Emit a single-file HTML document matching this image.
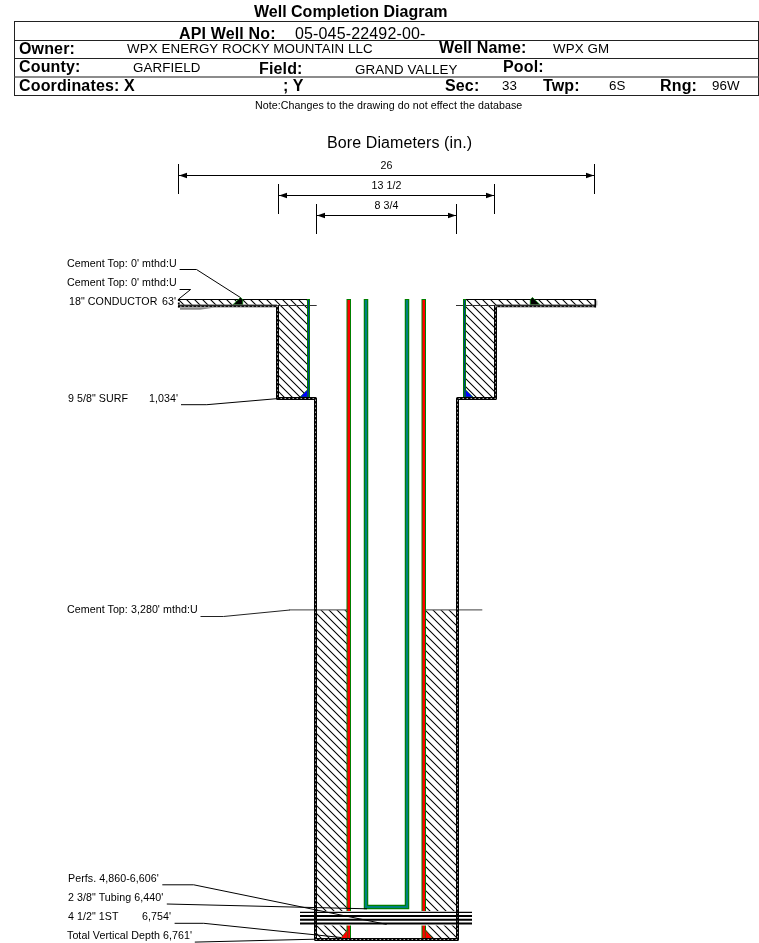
<!DOCTYPE html>
<html><head><meta charset="utf-8">
<style>
html,body{margin:0;padding:0;background:#fff;width:759px;height:943px;overflow:hidden}
svg{display:block;will-change:transform}
text{font-family:"Liberation Sans",sans-serif;fill:#000}
.b{font-weight:bold;font-size:16px;letter-spacing:0.15px}
.v{font-size:13.33px;letter-spacing:0.1px}
.s{font-size:10.67px;letter-spacing:0.06px}
</style></head><body>
<svg width="759" height="943" viewBox="0 0 759 943">
<defs>
<pattern id="h" patternUnits="userSpaceOnUse" x="7" y="0" width="8" height="8">
<path d="M-1,-1 L9,9 M-1,7 L1,9 M7,-1 L9,1" stroke="#000" stroke-width="1.05" fill="none"/>
</pattern>
</defs>
<!-- HEADER -->
<text class="b" x="254" y="17" style="letter-spacing:0">Well Completion Diagram</text>
<g stroke="#222" stroke-width="1" fill="none">
<rect x="14.5" y="21.5" width="744" height="74"/>
<line x1="14.5" y1="40.5" x2="758.5" y2="40.5"/>
<line x1="14.5" y1="58.5" x2="758.5" y2="58.5"/>
<line x1="14.5" y1="77" x2="758.5" y2="77" stroke="#666" stroke-width="1.6"/>
</g>
<text class="b" x="179" y="39">API Well No:</text>
<text class="b" style="font-weight:normal" x="295" y="39">05-045-22492-00-</text>
<text class="b" x="19" y="54">Owner:</text>
<text class="v" x="127" y="53">WPX ENERGY ROCKY MOUNTAIN LLC</text>
<text class="b" x="439" y="53.3">Well Name:</text>
<text class="v" x="553" y="53">WPX GM</text>
<text class="b" x="19" y="72.3">County:</text>
<text class="v" x="133" y="71.7">GARFIELD</text>
<text class="b" x="259" y="74">Field:</text>
<text class="v" x="355" y="73.6">GRAND VALLEY</text>
<text class="b" x="503" y="72.3">Pool:</text>
<text class="b" x="19" y="90.7">Coordinates: X</text>
<text class="b" x="283" y="90.7">; Y</text>
<text class="b" x="445" y="90.7">Sec:</text>
<text class="v" x="502" y="90.2">33</text>
<text class="b" x="543" y="90.7">Twp:</text>
<text class="v" x="609" y="90.2">6S</text>
<text class="b" x="660" y="90.7">Rng:</text>
<text class="v" x="712" y="90.2">96W</text>
<text class="s" x="255" y="109">Note:Changes to the drawing do not effect the database</text>

<!-- BORE DIAMETERS -->
<text x="327" y="147.6" style="font-size:16px;letter-spacing:0.1px">Bore Diameters (in.)</text>
<g stroke="#000" stroke-width="1" fill="none">
<line x1="178.5" y1="164" x2="178.5" y2="194"/>
<line x1="594.5" y1="164" x2="594.5" y2="194"/>
<line x1="178.5" y1="175.5" x2="594.5" y2="175.5"/>
<line x1="278.5" y1="184" x2="278.5" y2="214"/>
<line x1="494.5" y1="184" x2="494.5" y2="214"/>
<line x1="278.5" y1="195.5" x2="494.5" y2="195.5"/>
<line x1="316.5" y1="204" x2="316.5" y2="234"/>
<line x1="456.5" y1="204" x2="456.5" y2="234"/>
<line x1="316.5" y1="215.5" x2="456.5" y2="215.5"/>
</g>
<g fill="#000">
<path d="M179,175.5 L187,172.7 L187,178.3 Z"/><path d="M594,175.5 L586,172.7 L586,178.3 Z"/>
<path d="M279,195.5 L287,192.7 L287,198.3 Z"/><path d="M494,195.5 L486,192.7 L486,198.3 Z"/>
<path d="M317,215.5 L325,212.7 L325,218.3 Z"/><path d="M456,215.5 L448,212.7 L448,218.3 Z"/>
</g>
<text class="s" x="386.5" y="169.3" text-anchor="middle">26</text>
<text class="s" x="386.5" y="189.3" text-anchor="middle">13 1/2</text>
<text class="s" x="386.5" y="209.3" text-anchor="middle">8 3/4</text>

<!-- WELL -->
<g id="well">
<!-- cement hatching -->
<rect x="178" y="299.5" width="130" height="6.5" fill="url(#h)"/>
<rect x="465" y="299.5" width="130" height="6.5" fill="url(#h)"/>
<rect x="278" y="306" width="30" height="92" fill="url(#h)"/>
<rect x="465" y="306" width="30" height="92" fill="url(#h)"/>
<rect x="316" y="610" width="31" height="329" fill="url(#h)"/>
<rect x="426" y="610" width="31" height="329" fill="url(#h)"/>
<!-- ground/conductor bottom line -->
<line x1="277" y1="305.5" x2="316.7" y2="305.5" stroke="#333" stroke-width="1"/>
<line x1="456" y1="305.5" x2="495" y2="305.5" stroke="#333" stroke-width="1"/>
<!-- conductor top -->
<line x1="178" y1="299.5" x2="308" y2="299.5" stroke="#000" stroke-width="1"/>
<line x1="465" y1="299.5" x2="595" y2="299.5" stroke="#000" stroke-width="1"/>
<!-- cement top line 3280 -->
<path d="M200.5,616.5 L223.4,616.5 L290,610" stroke="#222" stroke-width="1" fill="none"/><path d="M289,609.9 L347,609.9 M426,609.9 L482.3,609.9" stroke="#666" stroke-width="1.4" fill="none"/>
<!-- surface casing -->
<rect x="307" y="299" width="3" height="98" fill="#008000"/>
<rect x="308" y="300" width="1" height="97" fill="#003d8f"/>
<rect x="463" y="299" width="3" height="98" fill="#008000"/>
<rect x="464" y="300" width="1" height="97" fill="#003d8f"/>
<path d="M300,397 L307.7,389.4 L307.7,397 Z" fill="#00f" stroke="#008000" stroke-width="0.6"/>
<path d="M473,397 L465.3,389.4 L465.3,397 Z" fill="#00f" stroke="#008000" stroke-width="0.6"/>
<!-- production casing -->
<rect x="346.5" y="299" width="4.5" height="639" fill="#008000"/>
<rect x="347.5" y="300" width="2.5" height="638" fill="#f00"/>
<rect x="421.5" y="299" width="4.5" height="639" fill="#008000"/>
<rect x="422.5" y="300" width="2.5" height="638" fill="#f00"/>
<path d="M340.5,938.5 L347.8,929.5 L347.8,938.5 Z" fill="#f00" stroke="#008000" stroke-width="0.6"/>
<path d="M432.5,938.5 L425.2,929.5 L425.2,938.5 Z" fill="#f00" stroke="#008000" stroke-width="0.6"/>
<!-- tubing -->
<path d="M366,299 L366,907 L407,907 L407,299" stroke="#008000" stroke-width="4.5" fill="none"/>
<path d="M366,300 L366,907 L407,907 L407,300" stroke="#008080" stroke-width="2.2" fill="none"/>
<!-- cement top markers conductor -->
<path d="M233,304.7 L240.5,297.5 L242.7,299.5 L242.7,304.7 Z" fill="#000" stroke="#008000" stroke-width="0.8"/>
<path d="M540,304.7 L532.5,297.5 L530.3,299.5 L530.3,304.7 Z" fill="#000" stroke="#008000" stroke-width="0.8"/>
<!-- perfs -->
<rect x="300" y="911" width="172" height="14.5" fill="#fff"/>
<!-- hole walls -->
<path d="M277.5,305.5 L277.5,398.5 L315.5,398.5 L315.5,939.5 L457.5,939.5 L457.5,398.5 L495.5,398.5 L495.5,305.5" stroke="#000" stroke-width="3" fill="none" stroke-linejoin="round"/>
<path d="M277.5,305.5 L277.5,398.5 L315.5,398.5 L315.5,939.5 L457.5,939.5 L457.5,398.5 L495.5,398.5 L495.5,305.5" stroke="#aaa" stroke-width="1" fill="none" stroke-dasharray="1.6,2.4"/>
<path d="M178,306.2 L277,306.2 M496,306.2 L595.5,306.2" stroke="#111" stroke-width="2.3" fill="none"/>
<path d="M180,306.4 L277,306.4 M496,306.4 L595,306.4" stroke="#999" stroke-width="0.9" fill="none" stroke-dasharray="1.6,2.4"/>
<path d="M178,304.8 L277,304.8 M496,304.8 L595,304.8" stroke="#666" stroke-width="0.8" fill="none"/>
<path d="M178.8,299 L178.8,307.5" stroke="#000" stroke-width="1.8" fill="none" stroke-dasharray="2,1.5"/>
<path d="M595.3,299 L595.3,307.5" stroke="#000" stroke-width="1.6" fill="none"/><path d="M596.8,300.5 L596.8,305.5" stroke="#999" stroke-width="1" fill="none"/>
<path d="M180,307.6 L215,307.6 L200,309.8 L180,309.8 Z" fill="#8a8a8a"/>
<g stroke="#000" fill="none">
<line x1="300" y1="912.3" x2="472" y2="912.3" stroke-width="1.3"/>
<line x1="300" y1="915.9" x2="472" y2="915.9" stroke-width="2"/>
<line x1="300" y1="919.7" x2="472" y2="919.7" stroke-width="2"/>
<line x1="300" y1="923.6" x2="472" y2="923.6" stroke-width="2"/>
</g>
</g>

<!-- LABELS & LEADERS -->
<text class="s" x="67" y="267">Cement Top: 0' mthd:U</text>
<text class="s" x="67" y="286.3">Cement Top: 0' mthd:U</text>
<text class="s" x="69" y="305.4">18" CONDUCTOR</text>
<text class="s" x="162" y="305.4">63'</text>
<text class="s" x="68" y="401.6">9 5/8" SURF</text>
<text class="s" x="149" y="401.6">1,034'</text>
<text class="s" x="67" y="612.7">Cement Top: 3,280' mthd:U</text>
<text class="s" x="68" y="881.6">Perfs. 4,860-6,606'</text>
<text class="s" x="68" y="901">2 3/8" Tubing 6,440'</text>
<text class="s" x="68" y="919.8">4 1/2" 1ST</text>
<text class="s" x="142" y="919.8">6,754'</text>
<text class="s" x="67" y="939.4">Total Vertical Depth 6,761'</text>
<g stroke="#000" stroke-width="1" fill="none">
<path d="M179.6,269.5 L196.5,269.5 L240.4,297.5"/>
<path d="M179.6,289.5 L190.6,289.5 L178.3,299.4"/>
<path d="M181,404.7 L206.8,404.7 L278.8,398.5"/>
<path d="M162.3,884.8 L193.7,884.8 L386.6,924.4"/>
<path d="M166.8,904 L367,908.8"/>
<path d="M174.6,923.3 L203.75,923.3 L341,937.5"/>
<path d="M194.8,942.1 L315,939.2"/>
</g>

</svg>
</body></html>
